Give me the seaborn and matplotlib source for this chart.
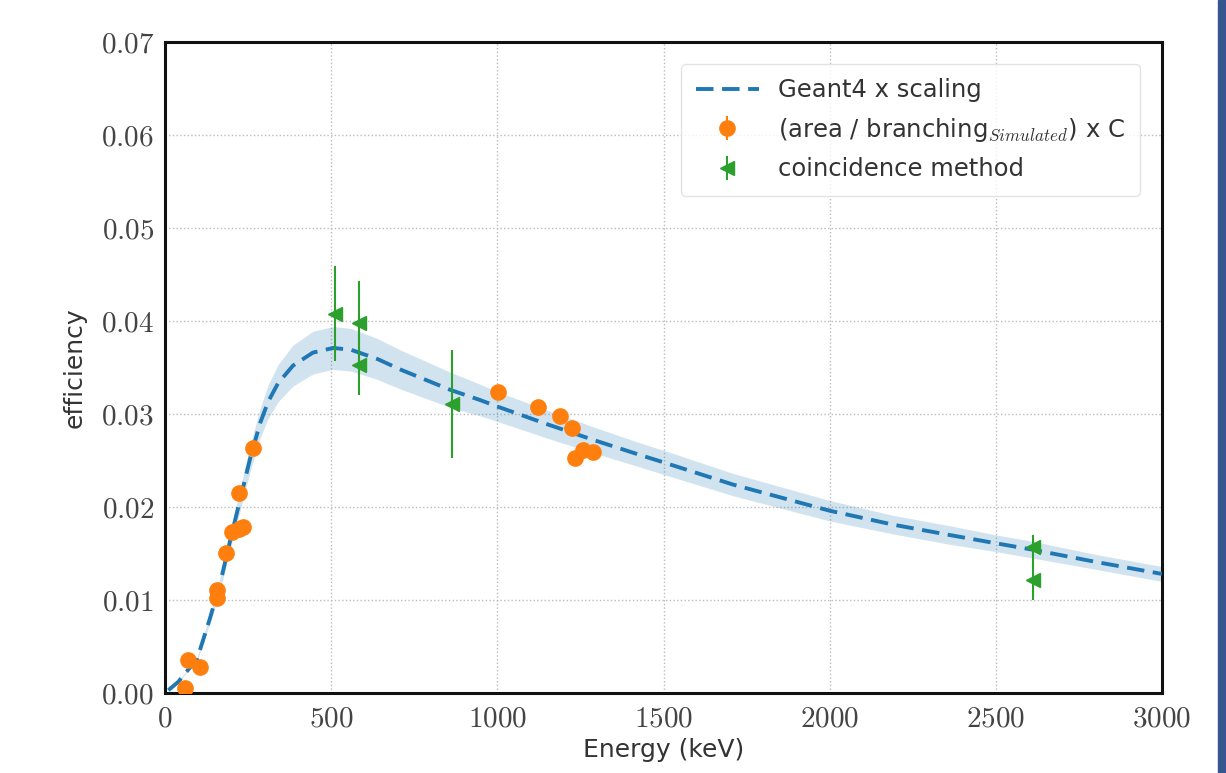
import matplotlib
matplotlib.use("Agg")
import matplotlib.pyplot as plt
import matplotlib.ticker as mticker
from matplotlib.patches import Rectangle
import seaborn as sns
import pandas as pd

# Geant4 x scaling curve
curve_E = [10, 40, 60, 96, 135, 166, 196, 226, 256, 286, 310, 340, 385, 445,
           506, 560, 640, 707, 858, 948, 1000, 1150, 1290, 1420, 1500, 1710,
           2000, 2191, 2359, 2500, 2612, 2800, 3000]
curve_eff = [0.0003, 0.0012, 0.0021, 0.0036, 0.0080, 0.0118, 0.0164, 0.0208,
             0.0252, 0.0290, 0.0313, 0.0333, 0.0352, 0.0366, 0.0371, 0.0369,
             0.0359, 0.0348, 0.0326, 0.0315, 0.0308, 0.0289, 0.0272, 0.0257,
             0.0248, 0.0224, 0.0196, 0.0181, 0.0170, 0.0161, 0.0154, 0.0141,
             0.0128]
band_half = [0.0000, 0.0001, 0.0001, 0.0002, 0.0005, 0.0007, 0.0010, 0.0012,
             0.0014, 0.0016, 0.0018, 0.0020, 0.0022, 0.0023, 0.0023, 0.0023,
             0.0022, 0.0021, 0.0019, 0.0017, 0.0016, 0.0015, 0.0014, 0.0013,
             0.0013, 0.0012, 0.0011, 0.0010, 0.0010, 0.0009, 0.0009, 0.0008,
             0.0008]

# (area / branching) x C
area_E = [60, 70, 105, 156, 157, 183, 201, 222, 235, 223, 265,
          1002, 1123, 1189, 1224, 1234, 1259, 1288]
area_eff = [0.0005, 0.0035, 0.0028, 0.0111, 0.0102, 0.0150, 0.0173, 0.0176,
            0.0179, 0.0215, 0.0263, 0.0324, 0.0308, 0.0298, 0.0285, 0.0253,
            0.0261, 0.0259]
area_err = [0.0003] * len(area_E)

# coincidence method
coin_E = [512, 585, 585, 863, 2612, 2612]
coin_eff = [0.0408, 0.0398, 0.0353, 0.0311, 0.0157, 0.0122]
coin_err = [0.0051, 0.0045, 0.0033, 0.0058, 0.0013, 0.0022]

x_ticks = [0, 500, 1000, 1500, 2000, 2500, 3000]
y_ticks = [0.00, 0.01, 0.02, 0.03, 0.04, 0.05, 0.06, 0.07]

sns.set_theme(style="white")
plt.rcParams["font.family"] = ["DejaVu Sans"]
plt.rcParams["mathtext.fontset"] = "cm"

fig = plt.figure(figsize=(12.26, 7.73), dpi=100)
ax = fig.add_axes([0.1346, 0.1035, 0.8132, 0.8422])

df = pd.DataFrame({"E": curve_E, "eff": curve_eff})
lo = [e - h for e, h in zip(curve_eff, band_half)]
hi = [e + h for e, h in zip(curve_eff, band_half)]
ax.fill_between(curve_E, lo, hi, color="#1f77b4", alpha=0.2, lw=0, zorder=2)
sns.lineplot(data=df, x="E", y="eff", ax=ax, color="#1f77b4", lw=2.8,
             linestyle=(0, (4.5, 2.2)), label="Geant4 x scaling", zorder=3)

ax.errorbar(area_E, area_eff, yerr=area_err, fmt="o", color="#ff7f0e",
            ms=11, elinewidth=1.5, capsize=0, zorder=4,
            label=r"(area / branching$_{Simulated}$) x C")
ax.errorbar(coin_E, coin_eff, yerr=coin_err, fmt="<", color="#2ca02c",
            ms=10, elinewidth=1.5, capsize=0, zorder=5,
            label="coincidence method")

ax.set_xlim(0, 3000)
ax.set_ylim(0, 0.07)
ax.set_xticks(x_ticks)
ax.set_yticks(y_ticks)
ax.xaxis.set_major_formatter(mticker.FuncFormatter(lambda v, p: r"$%d$" % v))
ax.yaxis.set_major_formatter(mticker.FuncFormatter(lambda v, p: r"$%.2f$" % v))
ax.tick_params(direction="in", length=6, width=1.5, colors="#222222",
               labelsize=21, labelcolor="#444444", pad=8)
ax.grid(True, linestyle=":", color="#bbbbbb", lw=1)
for s in ax.spines.values():
    s.set_color("#111111")
    s.set_linewidth(2.2)

ax.set_xlabel("Energy (keV)", fontsize=18, color="#333333", labelpad=4)
ax.set_ylabel("efficiency", fontsize=18, color="#333333", labelpad=10)

leg = ax.legend(loc="upper right", fontsize=17.5, frameon=True, fancybox=True,
                borderpad=0.6, handlelength=2.6, labelspacing=0.55,
                bbox_to_anchor=(0.99, 0.985))
leg.get_frame().set_edgecolor("#dddddd")
for t in leg.get_texts():
    t.set_color("#333333")

fig.patches.append(Rectangle((1218 / 1226, 0), 8 / 1226, 1,
                             transform=fig.transFigure, color="#34578f",
                             zorder=10))

fig.savefig("out.png", dpi=100)
